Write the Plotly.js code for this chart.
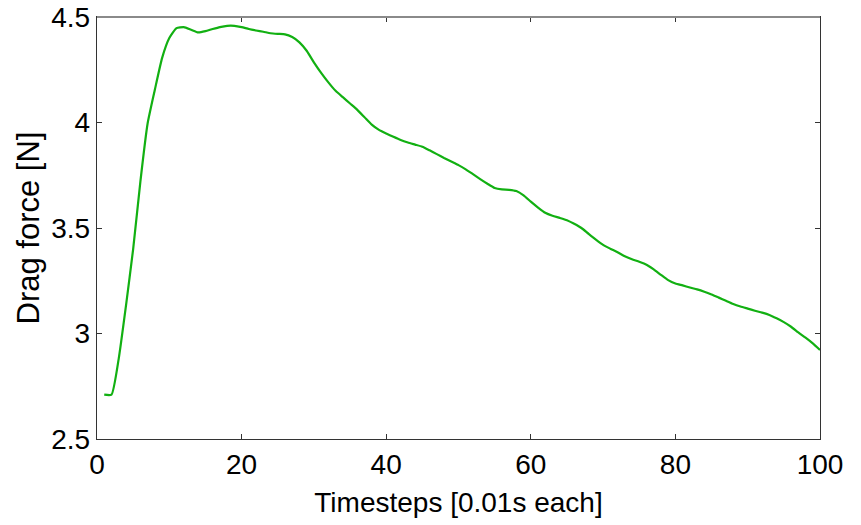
<!DOCTYPE html>
<html>
<head>
<meta charset="utf-8">
<script src="https://cdn.plot.ly/plotly-3.0.1.min.js"></script>
<style>
  html, body { margin: 0; padding: 0; background: #fff; }
  #chart { width: 861px; height: 525px; }
</style>
</head>
<body>
<div id="chart"></div>
<script>
// Drag force on the body at each simulation timestep (0.01 s per step)
const timesteps = [
  1, 2, 3, 4, 5, 6, 7, 8, 9, 10,
  11, 12, 13, 14, 15, 16, 17, 18, 19, 20,
  21, 22, 23, 24, 25, 26, 27, 28, 29, 30,
  31, 32, 33, 34, 35, 36, 37, 38, 39, 40,
  41, 42, 43, 44, 45, 46, 47, 48, 49, 50,
  51, 52, 53, 54, 55, 56, 57, 58, 59, 60,
  61, 62, 63, 64, 65, 66, 67, 68, 69, 70,
  71, 72, 73, 74, 75, 76, 77, 78, 79, 80,
  81, 82, 83, 84, 85, 86, 87, 88, 89, 90,
  91, 92, 93, 94, 95, 96, 97, 98, 99, 100
];

const dragForce = [
  2.710, 2.710, 2.880, 3.130, 3.400, 3.720, 3.995, 4.155, 4.305, 4.400,
  4.447, 4.452, 4.440, 4.427, 4.433, 4.443, 4.452, 4.458, 4.458, 4.452,
  4.443, 4.436, 4.430, 4.423, 4.420, 4.418, 4.405, 4.380, 4.340, 4.285,
  4.235, 4.190, 4.150, 4.120, 4.090, 4.060, 4.025, 3.990, 3.965, 3.948,
  3.932, 3.917, 3.905, 3.895, 3.885, 3.868, 3.850, 3.832, 3.815, 3.798,
  3.778, 3.755, 3.732, 3.710, 3.690, 3.683, 3.681, 3.675, 3.655, 3.625,
  3.597, 3.572, 3.558, 3.548, 3.537, 3.520, 3.500, 3.472, 3.445, 3.420,
  3.402, 3.385, 3.366, 3.352, 3.340, 3.326, 3.304, 3.278, 3.253, 3.237,
  3.228, 3.218, 3.209, 3.198, 3.185, 3.170, 3.155, 3.140, 3.128, 3.118,
  3.108, 3.099, 3.088, 3.072, 3.054, 3.032, 3.005, 2.980, 2.953, 2.922
];

const xTickValues = [0, 20, 40, 60, 80, 100];
const yTickValues = [2.5, 3, 3.5, 4, 4.5];
const yTickLabels = ['2.5', '3', '3.5', '4', '4.5'];

const xTitle = 'Timesteps [0.01s each]';
const yTitle = 'Drag force [N]';

const FONT = '"Liberation Sans", Arial, Helvetica, sans-serif';

const trace = {
  x: timesteps,
  y: dragForce,
  type: 'scatter',
  mode: 'lines',
  line: { color: '#12b012', width: 2.2, shape: 'spline', smoothing: 0.5 },
  hoverinfo: 'x+y'
};

const axisCommon = {
  showgrid: false,
  zeroline: false,
  showline: true,
  linecolor: '#333',
  linewidth: 1.2,
  mirror: 'ticks',
  ticks: 'inside',
  ticklen: 5,
  tickwidth: 1,
  tickcolor: '#333',
  tickfont: { family: FONT, size: 28, color: '#000' }
};

const layout = {
  width: 861,
  height: 525,
  margin: { l: 97, r: 41, t: 17, b: 86 },
  paper_bgcolor: '#fff',
  plot_bgcolor: '#fff',
  showlegend: false,
  xaxis: Object.assign({}, axisCommon, {
    range: [0, 100],
    tickvals: xTickValues,
    title: { text: xTitle, font: { family: FONT, size: 28, color: '#000' }, standoff: 13 }
  }),
  yaxis: Object.assign({}, axisCommon, {
    range: [2.5, 4.5],
    tickvals: yTickValues,
    ticktext: yTickLabels,
    ticklabelstandoff: 0,
    title: { text: yTitle, font: { family: FONT, size: 31, color: '#000' }, standoff: 2 }
  }),
  shapes: [
    {
      type: 'line', xref: 'paper', yref: 'paper',
      x0: 0, x1: 1, y0: 1, y1: 1,
      line: { color: '#8a8a8a', width: 2 }
    }
  ]
};

Plotly.newPlot('chart', [trace], layout, { displayModeBar: false, staticPlot: true });
</script>
</body>
</html>
